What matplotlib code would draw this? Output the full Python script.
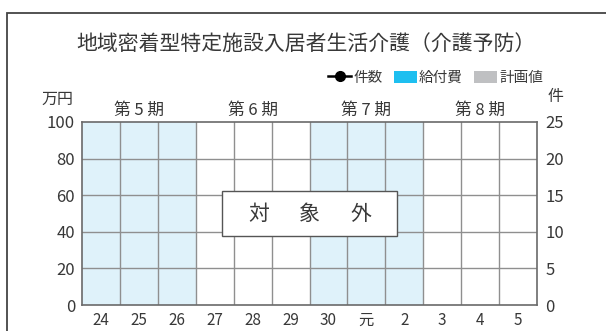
import numpy as np
import matplotlib
matplotlib.use("Agg")
from matplotlib import pyplot as plt
from matplotlib.patches import Rectangle, Patch
from matplotlib.lines import Line2D

plt.rcParams['font.family'] = ['Noto Sans CJK JP', 'DejaVu Sans']

# data
years = ["24", "25", "26", "27", "28", "29", "30", "元", "2", "3", "4", "5"]
periods = ["5", "6", "7", "8"]
period_shaded = [True, False, True, False]
benefit = [np.nan] * 12      # 給付費 (万円) - 対象外
plan = [np.nan] * 12         # 計画値 (万円)
counts = [np.nan] * 12       # 件数 (件)
left_ticks = [0, 20, 40, 60, 80, 100]
right_ticks = [0, 5, 10, 15, 20, 25]
note = ["対", "象", "外"]

TXT = '#383838'
GRID = '#8f8f8f'
SHADE = '#dff2fa'
BLUE = '#1ebff0'
GRAY = '#bfc0c2'

fig = plt.figure(figsize=(6.06, 3.31), dpi=100)

# outer frame, runs off the right and bottom edges
fig.add_artist(Rectangle((7 / 606, -0.1), 1.2, 1.1 - 13 / 331,
                         transform=fig.transFigure, fill=False,
                         edgecolor='#444444', linewidth=1.3))

ax = fig.add_axes([82 / 606, 26 / 331, 455 / 606, 183 / 331])
x = np.arange(len(years))

for i, shaded in enumerate(period_shaded):
    if shaded:
        ax.axvspan(i * 3 - 0.5, i * 3 + 2.5, color=SHADE, zorder=0, lw=0)

ax.bar(x - 0.2, plan, width=0.4, color=GRAY)
ax.bar(x + 0.2, benefit, width=0.4, color=BLUE)

ax.set_xlim(-0.5, len(years) - 0.5)
ax.set_ylim(0, 100)
ax.set_yticks(left_ticks)
ax.set_xticks(x)
ax.set_xticklabels(years)
for v in np.arange(0.5, len(years) - 1, 1):
    ax.axvline(v, color=GRID, lw=1, zorder=1)
for v in left_ticks[1:-1]:
    ax.axhline(v, color=GRID, lw=1, zorder=1)
for s in ax.spines.values():
    s.set_color('#6a6a6a')
    s.set_linewidth(1.2)
ax.tick_params(axis='y', length=0, pad=5, labelsize=12, labelcolor=TXT)
ax.tick_params(axis='x', length=0, pad=5, labelsize=11, labelcolor=TXT)

ax2 = ax.twinx()
ax2.plot(x, counts, '-o', color='black')
ax2.set_ylim(0, 25)
ax2.set_yticks(right_ticks)
ax2.tick_params(axis='y', length=0, pad=6, labelsize=12, labelcolor=TXT)
for s in ax2.spines.values():
    s.set_visible(False)

# period labels
for i, p in enumerate(periods):
    ax.text(i * 3 + 1, 101.5, "第 " + p + " 期", ha='center', va='bottom',
            fontsize=12, color=TXT)

# unit labels
fig.text(57 / 606, 1 - 99 / 331, "万円", ha='center', va='center', fontsize=11.5, color=TXT)
fig.text(556 / 606, 1 - 96 / 331, "件", ha='center', va='center', fontsize=11.5, color=TXT)

# 対象外 box
ax.add_patch(Rectangle((3.19, 37.7), 4.62, 24.6, facecolor='white',
                       edgecolor='#555555', lw=1, zorder=5))
for k, ch in enumerate(note):
    ax.text(5.5 + (k - 1) * 1.35, 50, ch, ha='center', va='center',
            fontsize=15, color=TXT, zorder=6)

fig.text(306 / 606, 1 - 44 / 331, "地域密着型特定施設入居者生活介護（介護予防）",
         ha='center', va='center', fontsize=15, color=TXT)

handles = [Line2D([], [], color='black', marker='o', markersize=7, lw=1.8),
           Patch(facecolor=BLUE), Patch(facecolor=GRAY)]
fig.legend(handles, ["件数", "給付費", "計画値"], loc='center right',
           bbox_to_anchor=(543 / 606, 1 - 78 / 331), ncol=3, frameon=False,
           fontsize=10.5, handlelength=1.55, handletextpad=0.15, columnspacing=0.8,
           handleheight=0.9, labelcolor=TXT, borderaxespad=0, borderpad=0)

fig.savefig("out.png", dpi=100)
